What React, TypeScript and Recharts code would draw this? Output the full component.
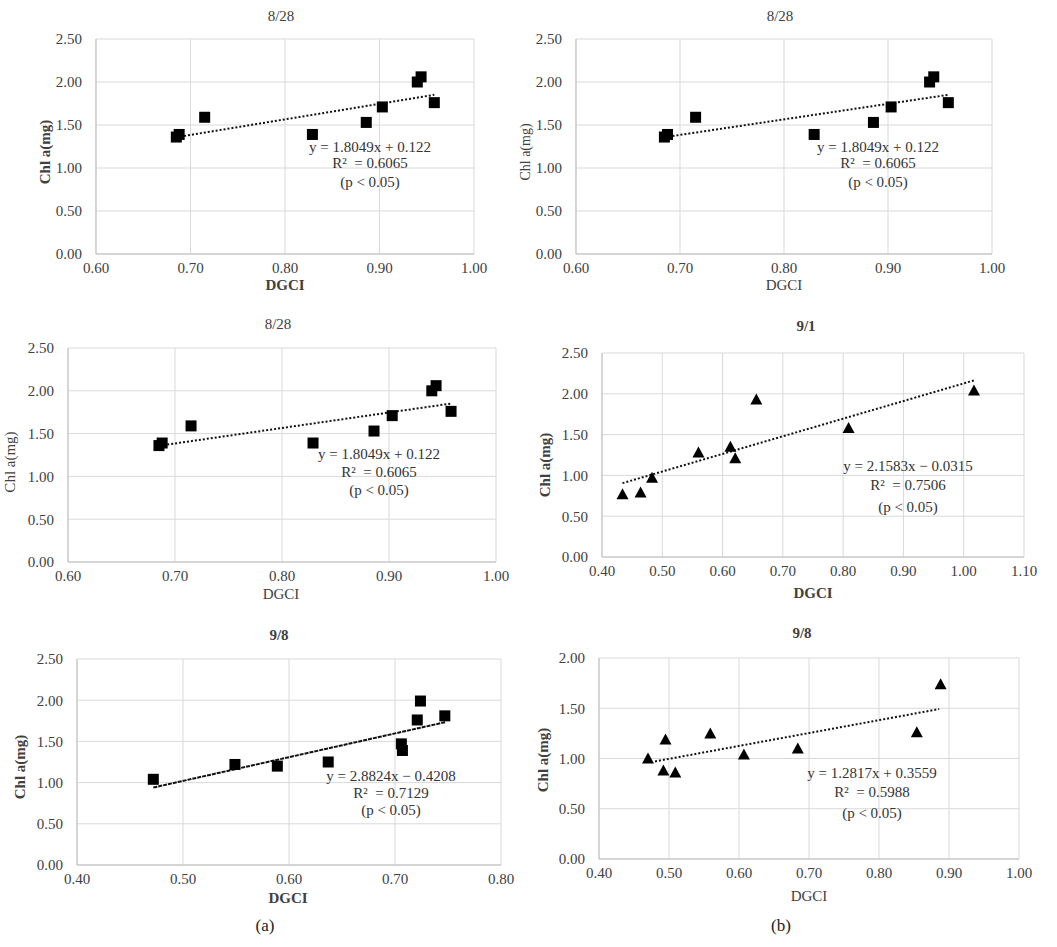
import React from 'react';
import { ScatterChart, Scatter, XAxis, YAxis, CartesianGrid, ReferenceLine } from 'recharts';

// 8/28 (same data shown in three panels)
const dgci828 = [0.685, 0.688, 0.715, 0.829, 0.886, 0.903, 0.940, 0.944, 0.958];
const chl828 = [1.36, 1.39, 1.59, 1.39, 1.53, 1.71, 2.0, 2.06, 1.76];
const trend828 = [{ x: 0.689, y: 1.365 }, { x: 0.958, y: 1.851 }];
const eq828 = ['y = 1.8049x + 0.122', 'R\u00B2  = 0.6065', '(p < 0.05)'];

// 9/1
const dgci91 = [0.434, 0.464, 0.483, 0.56, 0.613, 0.621, 0.656, 0.809, 1.017];
const chl91 = [0.77, 0.79, 0.97, 1.28, 1.35, 1.21, 1.93, 1.58, 2.04];
const trend91 = [{ x: 0.434, y: 0.905 }, { x: 1.018, y: 2.166 }];
const eq91 = ['y = 2.1583x \u2212 0.0315', 'R\u00B2  = 0.7506', '(p < 0.05)'];

// 9/8 (a)
const dgci98a = [0.472, 0.549, 0.589, 0.637, 0.706, 0.707, 0.721, 0.724, 0.747];
const chl98a = [1.04, 1.22, 1.2, 1.25, 1.47, 1.39, 1.76, 1.99, 1.81];
const trend98a = [{ x: 0.472, y: 0.94 }, { x: 0.748, y: 1.735 }];
const eq98a = ['y = 2.8824x \u2212 0.4208', 'R\u00B2  = 0.7129', '(p < 0.05)'];

// 9/8 (b)
const dgci98b = [0.47, 0.492, 0.495, 0.509, 0.559, 0.607, 0.684, 0.854, 0.888];
const chl98b = [1.0, 0.88, 1.19, 0.86, 1.25, 1.04, 1.1, 1.26, 1.74];
const trend98b = [{ x: 0.48, y: 0.971 }, { x: 0.886, y: 1.492 }];
const eq98b = ['y = 1.2817x + 0.3559', 'R\u00B2  = 0.5988', '(p < 0.05)'];

const xTicks06 = [0.6, 0.7, 0.8, 0.9, 1.0];
const xTicks04to11 = [0.4, 0.5, 0.6, 0.7, 0.8, 0.9, 1.0, 1.1];
const xTicks04to08 = [0.4, 0.5, 0.6, 0.7, 0.8];
const xTicks04to10 = [0.4, 0.5, 0.6, 0.7, 0.8, 0.9, 1.0];
const yTicks25 = [0, 0.5, 1, 1.5, 2, 2.5];
const yTicks20 = [0, 0.5, 1, 1.5, 2];

const SERIF = '"Liberation Serif", "DejaVu Serif", serif';
const INK = '#404040';

const panels = [
  {
    title: '8/28', xs: dgci828, ys: chl828, trend: trend828, eq: eq828, marker: 'square',
    xTicks: xTicks06, yTicks: yTicks25, dash: '2 2',
    plot: { l: 96, r: 474, t: 39, b: 254 },
    titlePos: [281, 16], xTitle: [285, 285], yTitle: [45, 152], eqPos: [370, 147, 163, 182],
    bold: { title: false, x: true, y: true },
  },
  {
    title: '8/28', xs: dgci828, ys: chl828, trend: trend828, eq: eq828, marker: 'square',
    xTicks: xTicks06, yTicks: yTicks25, dash: '2 2',
    plot: { l: 576, r: 992, t: 39, b: 254 },
    titlePos: [780, 16], xTitle: [784, 285], yTitle: [526, 152], eqPos: [878, 147, 163, 182],
    bold: { title: false, x: false, y: false }, ySize: 14,
  },
  {
    title: '8/28', xs: dgci828, ys: chl828, trend: trend828, eq: eq828, marker: 'square',
    xTicks: xTicks06, yTicks: yTicks25, dash: '2 2',
    plot: { l: 68, r: 496, t: 348, b: 562 },
    titlePos: [278, 324], xTitle: [281, 594], yTitle: [10, 462], eqPos: [379, 454, 472, 490],
    bold: { title: false, x: false, y: false },
  },
  {
    title: '9/1', xs: dgci91, ys: chl91, trend: trend91, eq: eq91, marker: 'triangle',
    xTicks: xTicks04to11, yTicks: yTicks25, dash: '2 2',
    plot: { l: 602, r: 1024, t: 353, b: 557 },
    titlePos: [806, 326], xTitle: [813, 593], yTitle: [545, 465], eqPos: [908, 466, 485, 507],
    bold: { title: true, x: true, y: true },
  },
  {
    title: '9/8', xs: dgci98a, ys: chl98a, trend: trend98a, eq: eq98a, marker: 'square',
    xTicks: xTicks04to08, yTicks: yTicks25, dash: '4 1',
    plot: { l: 77, r: 501, t: 659, b: 865 },
    titlePos: [279, 635], xTitle: [288, 898], yTitle: [20, 767], eqPos: [391, 776, 793, 810],
    bold: { title: true, x: true, y: true }, sub: ['(a)', 265, 925],
  },
  {
    title: '9/8', xs: dgci98b, ys: chl98b, trend: trend98b, eq: eq98b, marker: 'triangle',
    xTicks: xTicks04to10, yTicks: yTicks20, dash: '2 2',
    plot: { l: 599, r: 1019, t: 658, b: 859 },
    titlePos: [802, 633], xTitle: [809, 896], yTitle: [543, 760], eqPos: [872, 773, 792, 813],
    bold: { title: true, x: false, y: true }, sub: ['(b)', 781, 925],
  },
];

const Txt = ({ x, y, bold, size = 15, rotate, color = INK, children }: any) => (
  <div
    style={{
      position: 'absolute', left: x, top: y, whiteSpace: 'pre', fontFamily: SERIF,
      fontSize: size, fontWeight: bold ? 'bold' : 'normal', color, lineHeight: 1,
      transform: `translate(-50%, -50%)${rotate ? ' rotate(-90deg)' : ''}`,
    }}
  >
    {children}
  </div>
);

const Square = (props: any) => {
  const { cx, cy } = props;
  return <rect x={cx - 5.5} y={cy - 5.5} width={11} height={11} fill="#000" />;
};

const Triangle = (props: any) => {
  const { cx, cy } = props;
  return <polygon points={`${cx},${cy - 6} ${cx + 6},${cy + 5} ${cx - 6},${cy + 5}`} fill="#000" />;
};

const Panel = ({ p }: any) => {
  const left = p.plot.l - 90;
  const top = p.plot.t - 20;
  const width = p.plot.r + 20 - left;
  const height = p.plot.b + 40 - top;
  const points = p.xs.map((x: number, i: number) => ({ x, y: p.ys[i] }));
  const tick = { fill: INK, fontSize: 15, fontFamily: SERIF };
  const fmt = (v: number) => v.toFixed(2);
  return (
    <>
      <div style={{ position: 'absolute', left, top }}>
        <ScatterChart width={width} height={height} margin={{ top: 20, right: 20, bottom: 0, left: 0 }}>
          <CartesianGrid stroke="#d9d9d9" />
          <XAxis
            type="number" dataKey="x" domain={[p.xTicks[0], p.xTicks[p.xTicks.length - 1]]}
            ticks={p.xTicks} tickFormatter={fmt} height={40} tickSize={0} tickMargin={8}
            axisLine={{ stroke: '#bfbfbf' }} tickLine={false} tick={tick} interval={0}
          />
          <YAxis
            type="number" dataKey="y" domain={[p.yTicks[0], p.yTicks[p.yTicks.length - 1]]}
            ticks={p.yTicks} tickFormatter={fmt} width={90} tickSize={0} tickMargin={14}
            axisLine={{ stroke: '#bfbfbf' }} tickLine={false} tick={tick} interval={0}
          />
          <ReferenceLine
            segment={p.trend} stroke="#111" strokeWidth={2} strokeDasharray={p.dash} ifOverflow="visible"
          />
          <Scatter data={points} shape={p.marker === 'square' ? Square : Triangle} isAnimationActive={false} />
        </ScatterChart>
      </div>
      <Txt x={p.titlePos[0]} y={p.titlePos[1]} bold={p.bold.title}>{p.title}</Txt>
      <Txt x={p.xTitle[0]} y={p.xTitle[1]} bold={p.bold.x}>DGCI</Txt>
      <Txt x={p.yTitle[0]} y={p.yTitle[1]} bold={p.bold.y} size={p.ySize || 15} rotate>
        Chl a(mg)
      </Txt>
      {p.eq.map((line: string, i: number) => (
        <Txt key={i} x={p.eqPos[0]} y={p.eqPos[i + 1]} color="#333">{line}</Txt>
      ))}
      {p.sub && <Txt x={p.sub[1]} y={p.sub[2]} size={17} color="#222">{p.sub[0]}</Txt>}
    </>
  );
};

export default function App() {
  return (
    <div style={{ position: 'absolute', left: 0, top: 0, width: 1057, height: 947, background: '#fff', overflow: 'hidden' }}>
      {panels.map((p, i) => (
        <Panel key={i} p={p} />
      ))}
    </div>
  );
}
